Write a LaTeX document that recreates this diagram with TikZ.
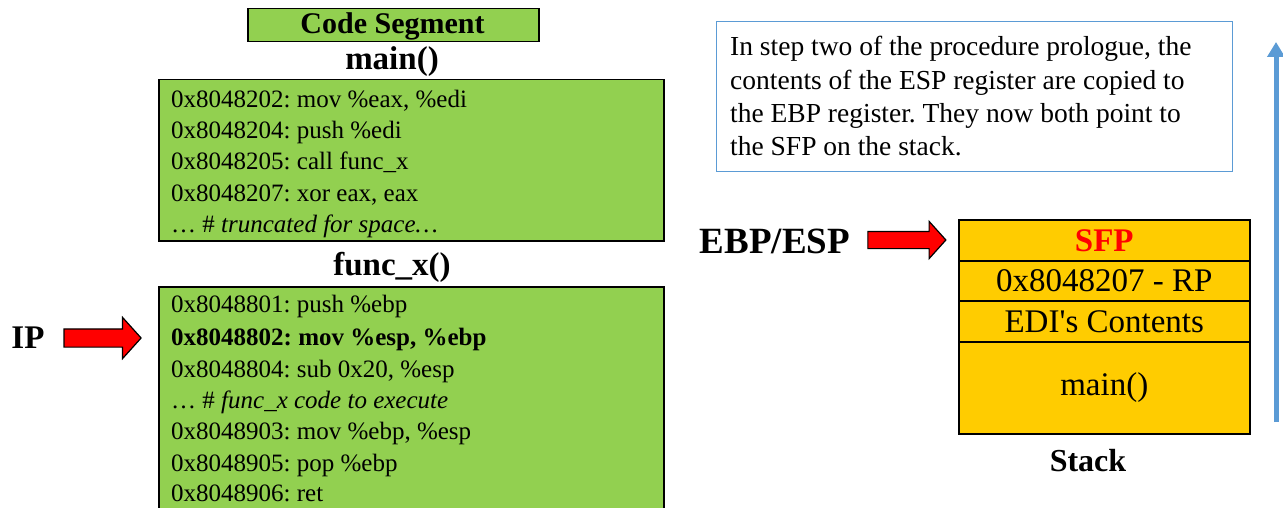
\documentclass[tikz,border=0pt]{standalone}
\usepackage{fontspec}
\setmainfont{Liberation Serif}
\usetikzlibrary{shapes.arrows,arrows.meta}
\definecolor{codegreen}{RGB}{146,208,80}
\definecolor{stackgold}{RGB}{255,204,0}
\definecolor{noteblue}{RGB}{91,155,213}
\newcommand{\setfs}[1]{\fontsize{#1}{#1}\selectfont}
\frenchspacing
\begin{document}
\begin{tikzpicture}[x=1pt,y=-1pt,
  box/.style={draw=black, line width=1.5pt, inner sep=0pt, anchor=north west},
  codebox/.style={box, fill=codegreen},
  stackrow/.style={box, fill=stackgold, minimum width=291pt, font=\setfs{33}},
  codeline/.style={anchor=base west, inner sep=0pt, font=\setfs{25}},
  noteline/.style={anchor=base west, inner sep=0pt, font=\setfs{27.5}},
  heading/.style={inner sep=0pt, font=\setfs{33}\bfseries},
  redarrow/.style={single arrow, draw=black, line width=1.2pt, fill=red,
    inner xsep=0pt, single arrow tip angle=96},
]
\useasboundingbox (0,0) rectangle (1283,508);

% ---------- code segment ----------
\node[codebox, minimum width=291pt, minimum height=33pt] (seg) at (247,8) {};
\node[inner sep=0pt, font=\setfs{30}\bfseries] (segtitle) at (392.5,26) {Code Segment};

\node[heading] (maintitle) at (392,62) {main()};
\node[codebox, minimum width=505pt, minimum height=161pt] (mainbox) at (158,79) {};
\node[codeline] (m1) at (171,108) {0x8048202: mov \%eax, \%edi};
\node[codeline] (m2) at (171,139) {0x8048204: push \%edi};
\node[codeline] (m3) at (171,170) {0x8048205: call func\_x};
\node[codeline] (m4) at (171,201) {0x8048207: xor eax, eax};
\node[codeline] (m5) at (171,232) {… \# \textit{truncated for space…}};

\node[heading] (functitle) at (392,267) {func\_x()};
\node[codebox, minimum width=505pt, minimum height=240pt] (funcbox) at (158,286) {};
\node[codeline] (f1) at (171,312) {0x8048801: push \%ebp};
\node[codeline] (f2) at (171,345) {\bfseries 0x8048802: mov \%esp, \%ebp};
\node[codeline] (f3) at (171,377) {0x8048804: sub 0x20, \%esp};
\node[codeline] (f4) at (171,408) {… \# \textit{func\_x code to execute}};
\node[codeline] (f5) at (171,439) {0x8048903: mov \%ebp, \%esp};
\node[codeline] (f6) at (171,471) {0x8048905: pop \%ebp};
\node[codeline] (f7) at (171,501) {0x8048906: ret};

% instruction pointer
\node[heading] (ip) at (28,338) {IP};
\node[redarrow, minimum height=77pt, inner ysep=8.5pt,
      single arrow head extend=11.5pt] (iparrow) at (98.5,338) {};

% ---------- explanatory note ----------
\node[box, draw=noteblue, line width=1pt, minimum width=516pt, minimum height=150pt] (note) at (716,21) {};
\node[noteline] (n1) at (730,56) {In step two of the procedure prologue, the};
\node[noteline] (n2) at (730,90) {contents of the ESP register are copied to};
\node[noteline] (n3) at (730,123) {the EBP register. They now both point to};
\node[noteline] (n4) at (730,156) {the SFP on the stack.};

% ---------- stack ----------
\node[stackrow, minimum height=41pt] (sfp) at (958,219) {\textcolor{red}{\bfseries SFP}};
\node[stackrow, minimum height=40pt] (rp) at (958,260) {0x8048207 - RP};
\node[stackrow, minimum height=41pt] (edi) at (958,300) {EDI\textquotesingle s Contents};
\node[stackrow, minimum height=92pt] (mainframe) at (958,341) {main()};
\node[inner sep=0pt, font=\setfs{32}\bfseries] (stacklabel) at (1088,461) {Stack};

% frame / stack pointer
\node[inner sep=0pt, font=\setfs{37}\bfseries] (ebpesp) at (775,241) {EBP/ESP};
\node[redarrow, minimum height=78pt, inner ysep=8pt,
      single arrow head extend=10pt] (ebparrow) at (903,240) {};

% growth direction
\coordinate (growbase) at (1276,422);
\coordinate (growtip) at (1276,42);
\draw[line width=5pt, noteblue, -{Triangle[width=17pt,length=15pt]}] (growbase) -- (growtip);
\end{tikzpicture}
\end{document}
